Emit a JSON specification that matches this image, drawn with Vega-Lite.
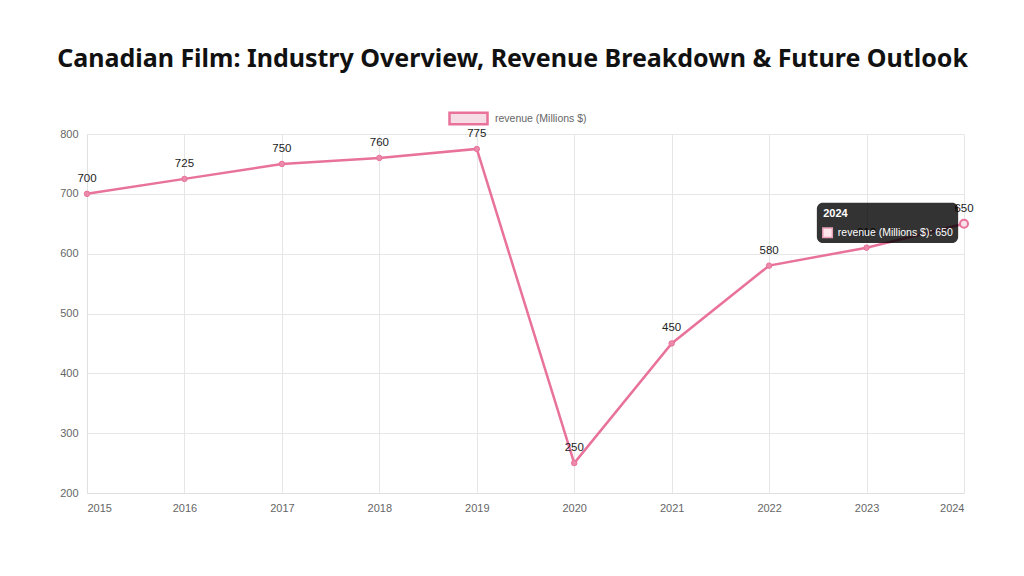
{
  "$schema": "https://vega.github.io/schema/vega-lite/v6.json",
  "width": 877,
  "height": 359,
  "autosize": {"type": "none"},
  "padding": {"left": 87, "top": 134, "right": 60, "bottom": 83},
  "background": "white",
  "title": {
    "text": "Canadian Film: Industry Overview, Revenue Breakdown & Future Outlook",
    "font": "Noto Sans",
    "fontSize": 25,
    "fontWeight": "bold",
    "color": "#111111",
    "anchor": "middle",
    "dx": -13,
    "offset": 26
  },
  "config": {
    "view": {"stroke": null},
    "axis": {
      "labelFont": "Liberation Sans",
      "labelFontSize": 11,
      "labelColor": "#666666",
      "gridColor": "#e6e6e6",
      "domainColor": "#e0e0e0",
      "ticks": false,
      "title": null
    }
  },
  "datasets": {
    "revenue": [
      {"year": 2015, "revenue": 700, "series": "revenue (Millions $)"},
      {"year": 2016, "revenue": 725, "series": "revenue (Millions $)"},
      {"year": 2017, "revenue": 750, "series": "revenue (Millions $)"},
      {"year": 2018, "revenue": 760, "series": "revenue (Millions $)"},
      {"year": 2019, "revenue": 775, "series": "revenue (Millions $)"},
      {"year": 2020, "revenue": 250, "series": "revenue (Millions $)"},
      {"year": 2021, "revenue": 450, "series": "revenue (Millions $)"},
      {"year": 2022, "revenue": 580, "series": "revenue (Millions $)"},
      {"year": 2023, "revenue": 610, "series": "revenue (Millions $)"},
      {"year": 2024, "revenue": 650, "series": "revenue (Millions $)"}
    ],
    "tip": [
      {"title": "2024", "body": "revenue (Millions $): 650"}
    ]
  },
  "layer": [
    {
      "data": {"name": "revenue"},
      "encoding": {
        "x": {
          "field": "year",
          "type": "quantitative",
          "scale": {"domain": [2015, 2024], "nice": false, "zero": false},
          "axis": {
            "values": [2015, 2016, 2017, 2018, 2019, 2020, 2021, 2022, 2023, 2024],
            "format": "d",
            "labelPadding": 9,
            "grid": true
          }
        },
        "y": {
          "field": "revenue",
          "type": "quantitative",
          "scale": {"domain": [200, 800], "nice": false, "zero": false},
          "axis": {
            "values": [200, 300, 400, 500, 600, 700, 800],
            "labelPadding": 9,
            "grid": true
          }
        }
      },
      "layer": [
        {
          "mark": {"type": "line", "strokeWidth": 2.5},
          "encoding": {
            "stroke": {
              "field": "series",
              "type": "nominal",
              "scale": {"range": ["#e8729a"]},
              "legend": {
                "title": null,
                "orient": "none",
                "legendX": 361,
                "legendY": -36,
                "symbolType": "M-1,-0.3H1V0.3H-1Z",
                "symbolSize": 1444,
                "symbolStrokeWidth": 2.5,
                "labelFont": "Liberation Sans",
                "labelFontSize": 10.5,
                "labelColor": "#666666",
                "labelOffset": 6,
                "padding": 0,
                "encode": {
                  "symbols": {"update": {"fill": {"value": "#f6dde5"}, "stroke": {"value": "#e8729a"}, "strokeWidth": {"value": 2.5}}}
                }
              }
            }
          }
        },
        {
          "mark": {"type": "point", "filled": true, "opacity": 1, "size": 30, "fill": "#ec8aab", "stroke": "#e8729a", "strokeWidth": 1},
          "encoding": {}
        },
        {
          "transform": [{"filter": "datum.year == 2024"}],
          "mark": {"type": "point", "filled": true, "opacity": 1, "size": 64, "fill": "#f9e3ea", "stroke": "#e8729a", "strokeWidth": 2}
        },
        {
          "mark": {"type": "text", "baseline": "bottom", "dy": -10, "font": "Liberation Sans", "fontSize": 11.5, "fill": "#222222"},
          "encoding": {"text": {"field": "revenue", "type": "quantitative"}}
        }
      ]
    },
    {
      "data": {"name": "tip"},
      "layer": [
        {
          "mark": {"type": "rect", "fill": "#000000", "fillOpacity": 0.8, "cornerRadius": 6},
          "encoding": {
            "x": {"datum": 2022.49, "type": "quantitative"},
            "x2": {"datum": 2023.94},
            "y": {"datum": 685, "type": "quantitative"},
            "y2": {"datum": 618}
          }
        },
        {
          "mark": {"type": "text", "align": "left", "baseline": "middle", "font": "Liberation Sans", "fontSize": 11, "fontWeight": "bold", "fill": "white"},
          "encoding": {
            "x": {"datum": 2022.555, "type": "quantitative"},
            "y": {"datum": 666, "type": "quantitative"},
            "text": {"field": "title"}
          }
        },
        {
          "mark": {"type": "square", "filled": true, "opacity": 1, "size": 90, "fill": "#fbe6ec", "stroke": "#eaa0b6", "strokeWidth": 1.5},
          "encoding": {
            "x": {"datum": 2022.6, "type": "quantitative"},
            "y": {"datum": 635, "type": "quantitative"}
          }
        },
        {
          "mark": {"type": "text", "align": "left", "baseline": "middle", "font": "Liberation Sans", "fontSize": 10.5, "fill": "white"},
          "encoding": {
            "x": {"datum": 2022.705, "type": "quantitative"},
            "y": {"datum": 635, "type": "quantitative"},
            "text": {"field": "body"}
          }
        }
      ]
    }
  ]
}
